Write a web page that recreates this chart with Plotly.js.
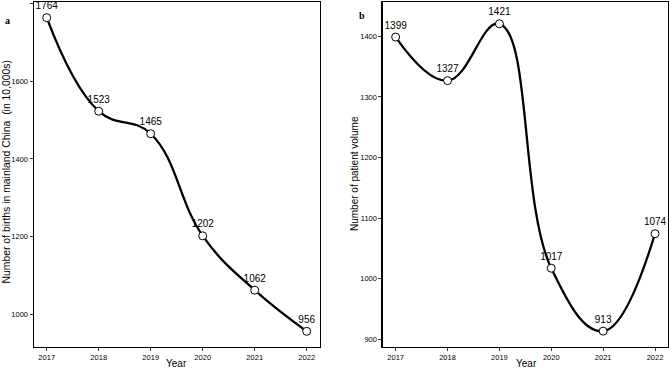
<!DOCTYPE html>
<html>
<head>
<meta charset="utf-8">
<script src="https://cdn.plot.ly/plotly-3.0.1.min.js"></script>
<style>
  html, body { margin: 0; padding: 0; background: #fff; }
  #chart { width: 669px; height: 369px; }
</style>
</head>
<body>
<div id="chart"></div>
<script>
// Years shared by both panels
const years = [2017, 2018, 2019, 2020, 2021, 2022];
// Panel a: births in mainland China (in 10,000s)
const births = [1764, 1523, 1465, 1202, 1062, 956];
// Panel b: patient volume
const patients = [1399, 1327, 1421, 1017, 913, 1074];

const birthTicks = [1000, 1200, 1400, 1600, 1800];
const patientTicks = [900, 1000, 1100, 1200, 1300, 1400];

const FONT = 'Liberation Sans, Arial, sans-serif';
const SERIF = 'Liberation Serif, Times New Roman, serif';

function series(y, xa, ya) {
  return {
    x: years, y: y, xaxis: xa, yaxis: ya,
    type: 'scatter', mode: 'lines+markers+text',
    line: { color: '#000', width: 2.3, shape: 'spline', smoothing: 1.2 },
    marker: { size: 8, color: '#fff', line: { color: '#000', width: 1 } },
    text: y.map(String), textposition: 'top center',
    textfont: { family: FONT, size: 10, color: '#000' },
    cliponaxis: false, hoverinfo: 'skip', showlegend: false
  };
}

function xAxis(domain, anchor) {
  return {
    domain: domain, anchor: anchor, range: [2016.75, 2022.25],
    tickvals: years, ticktext: years.map(String),
    ticks: 'outside', ticklen: 3, tickwidth: 1, tickcolor: '#333',
    tickfont: { family: FONT, size: 7.5, color: '#000' },
    showgrid: false, zeroline: false,
    showline: true, linecolor: '#000', linewidth: 1.2, mirror: true
  };
}

function yAxis(domain, anchor, range, tv) {
  return {
    domain: domain, anchor: anchor, range: range,
    tickvals: tv, ticktext: tv.map(String),
    ticks: 'outside', ticklen: 3, tickwidth: 1, tickcolor: '#333',
    tickfont: { family: FONT, size: 7.5, color: '#000' },
    showgrid: false, zeroline: false,
    showline: true, linecolor: '#000', linewidth: 1.2, mirror: true
  };
}

const yDom = [0.0596, 0.9946];

function label(text, px, py, size, family, angle) {
  return {
    text: text, xref: 'paper', yref: 'paper', x: px / 669, y: 1 - py / 369,
    textangle: angle || 0, showarrow: false, xanchor: 'center', yanchor: 'middle',
    font: { family: family, size: size, color: '#000' }
  };
}

const layout = {
  width: 669, height: 369,
  margin: { l: 0, r: 0, t: 0, b: 0 },
  paper_bgcolor: '#fff', plot_bgcolor: '#fff',
  xaxis: xAxis([0.0504, 0.4779], 'y'),
  yaxis: yAxis(yDom, 'x', [915.6, 1804.4], birthTicks),
  xaxis2: xAxis([0.5720, 0.9985], 'y2'),
  yaxis2: yAxis(yDom, 'x2', [886.8, 1457], patientTicks),
  annotations: [
    label('<b>a</b>', 7, 21, 10, SERIF),
    label('<b>b</b>', 362, 15, 10, SERIF),
    label('Number of births in mainland China  (in 10,000s)', 5.5, 172, 10.4, FONT, -90),
    label('Number of patient volume', 354, 174, 10, FONT, -90),
    label('Year', 176, 363, 10, FONT),
    label('Year', 526, 363, 10, FONT)
  ]
};

Plotly.newPlot('chart', [series(births, 'x', 'y'), series(patients, 'x2', 'y2')], layout,
  { displayModeBar: false, staticPlot: true });
</script>
</body>
</html>
